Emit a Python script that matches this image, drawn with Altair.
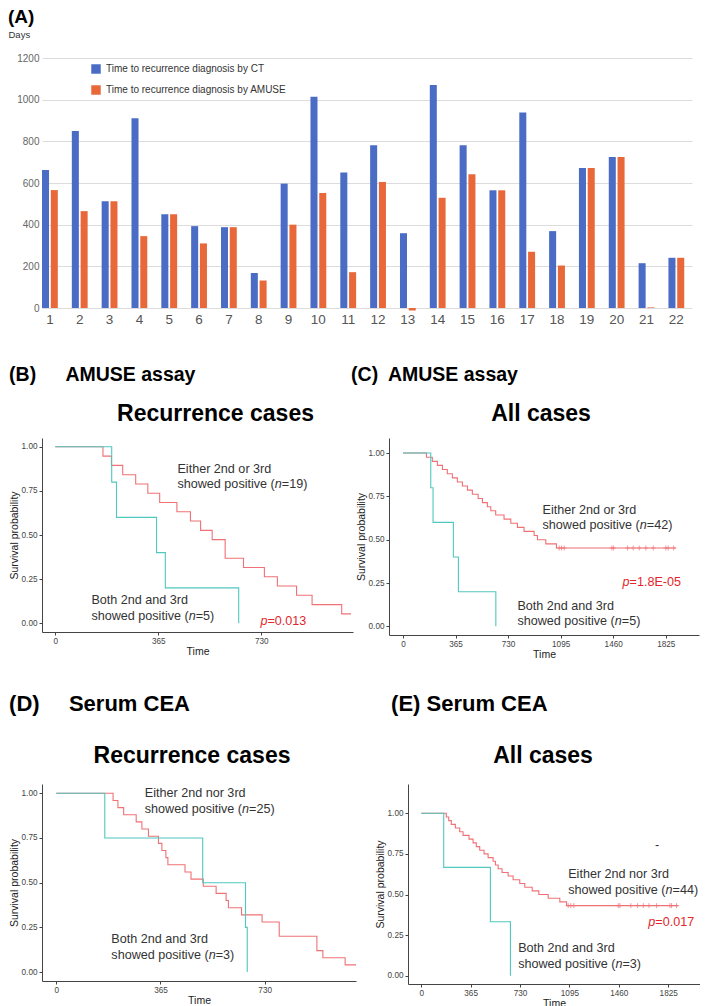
import altair as alt
import pandas as pd

FONT = "Liberation Sans"
BLUE = "#4A6CC5"
ORANGE = "#E8683A"
RED = "#EF7176"
TEAL = "#4FC8BE"
PRED = "#E3262C"
INK = "#333333"

# ---------------- (A) bar chart data ----------------
PATIENTS = [str(i) for i in range(1, 23)]
CT_DAYS = [662, 850, 513, 911, 450, 393, 388, 168, 597, 1014, 650,
           781, 359, 1070, 781, 565, 938, 369, 672, 725, 215, 241]
AMUSE_DAYS = [566, 465, 513, 345, 450, 310, 388, 132, 400, 552, 172,
              605, -12, 529, 642, 565, 270, 204, 672, 725, 3, 241]
SERIES = ["Time to recurrence diagnosis by CT",
          "Time to recurrence diagnosis by AMUSE"]
A_TICKS = [0, 200, 400, 600, 800, 1000, 1200]

# ---------------- Kaplan-Meier curves (time, survival) ----------------
B_RED_T = [0, 169, 199, 239, 285, 328, 370, 431, 479, 515, 556, 602, 667, 741, 787, 855, 910, 1015, 1048]
B_RED_S = [1.0, 0.947, 0.895, 0.842, 0.789, 0.737, 0.684, 0.632, 0.579, 0.526, 0.474, 0.368,
           0.316, 0.263, 0.211, 0.158, 0.105, 0.053, 0.053]
B_TEAL_T = [0, 200, 217, 359, 390, 650]
B_TEAL_S = [1.0, 0.8, 0.6, 0.4, 0.2, 0.0]

C_RED_T = [0, 163, 204, 239, 274, 308, 343, 378, 413, 448, 482, 522, 552, 586, 610, 644,
           702, 749, 795, 841, 911, 934, 992, 1066, 1896]
C_RED_S = [1.0, 0.976, 0.952, 0.929, 0.905, 0.881, 0.857, 0.833, 0.810, 0.786, 0.762, 0.738,
           0.714, 0.690, 0.667, 0.643, 0.619, 0.595, 0.571, 0.548, 0.524, 0.500, 0.476, 0.452, 0.452]
C_CENS_T = [1085, 1101, 1120, 1451, 1463, 1560, 1599, 1641, 1687, 1738, 1826, 1842, 1880]
C_CENS_S = [0.452] * 13
C_TEAL_T = [0, 193, 209, 350, 385, 645]
C_TEAL_S = [1.0, 0.8, 0.6, 0.4, 0.2, 0.0]

D_RED_T = [0, 199, 216, 236, 280, 300, 323, 358, 370, 384, 391, 451, 472, 515, 560, 595, 603,
           649, 721, 781, 913, 934, 1012, 1050]
D_RED_S = [1.0, 0.96, 0.92, 0.88, 0.84, 0.80, 0.76, 0.72, 0.68, 0.64, 0.60, 0.56, 0.52, 0.48,
           0.44, 0.40, 0.36, 0.32, 0.28, 0.20, 0.12, 0.08, 0.04, 0.04]
D_TEAL_T = [0, 170, 513, 663, 669]
D_TEAL_S = [1.0, 0.75, 0.5, 0.25, 0.0]

E_RED_T = [0, 185, 203, 222, 252, 284, 309, 353, 383, 407, 432, 464, 494, 531, 548, 568, 597,
           642, 679, 728, 765, 820, 869, 938, 1024, 1074, 1900]
E_RED_S = [1.0, 0.977, 0.955, 0.932, 0.909, 0.886, 0.864, 0.841, 0.818, 0.795, 0.773, 0.750,
           0.727, 0.705, 0.682, 0.659, 0.636, 0.614, 0.591, 0.568, 0.545, 0.523, 0.500, 0.477,
           0.455, 0.432, 0.432]
E_CENS_T = [1086, 1105, 1128, 1456, 1468, 1549, 1599, 1641, 1683, 1739, 1838, 1850, 1887]
E_CENS_S = [0.432] * 13
E_TEAL_T = [0, 166, 511, 659]
E_TEAL_S = [1.0, 0.667, 0.333, 0.0]

# ---------------- annotations (anchored in data units; "|" toggles italic) ----------------
B_NOTE_T = [433, 433, 128, 128]
B_NOTE_S = [0.874, 0.787, 0.130, 0.043]
B_NOTE = ["Either 2nd or 3rd", "showed positive (|n|=19)", "Both 2nd and 3rd", "showed positive (|n|=5)"]
B_P = (727, 0.015, "|p|=0.013")

C_NOTE_T = [969, 969, 795, 795]
C_NOTE_S = [0.672, 0.582, 0.120, 0.029]
C_NOTE = ["Either 2nd or 3rd", "showed positive (|n|=42)", "Both 2nd and 3rd", "showed positive (|n|=5)"]
C_P = (1525, 0.254, "|p|=1.8E-05")

D_NOTE_T = [310, 310, 193, 193]
D_NOTE_S = [1.0, 0.912, 0.184, 0.097]
D_NOTE = ["Either 2nd nor 3rd", "showed positive (|n|=25)", "Both 2nd and 3rd", "showed positive (|n|=3)"]
D_P = None

E_NOTE_T = [1086, 1086, 716, 716, 1727]
E_NOTE_S = [0.627, 0.529, 0.170, 0.072, 0.805]
E_NOTE = ["Either 2nd nor 3rd", "showed positive (|n|=44)", "Both 2nd and 3rd", "showed positive (|n|=3)", "-"]
E_P = (1678, 0.334, "|p|=0.017")

# Arial / Liberation Sans advance widths (1/1000 em) for inline italic offsets
WIDTH = {" ": 278, "(": 333, ")": 333, "=": 584, ".": 278, "-": 333, "E": 667}
WIDTH.update({c: 556 for c in "0123456789abdeghnopqu"})
WIDTH.update({c: 500 for c in "cksvxyz"})
WIDTH.update({"f": 278, "t": 278, "i": 222, "j": 222, "l": 222, "m": 833, "r": 333, "w": 722})

NOTE_SIZE = 12.6


def text_width(s, size):
    return sum(WIDTH.get(ch, 556) for ch in s) * size / 1000.0


def rich_text_layers(t, s, text, X, Y, color):
    layers = []
    dx = 0.0
    for k, seg in enumerate(text.split("|")):
        if seg:
            df = pd.DataFrame({"t": [t], "s": [s], "label": [seg]})
            layers.append(
                alt.Chart(df).mark_text(
                    align="left", baseline="middle", font=FONT, fontSize=NOTE_SIZE,
                    fontStyle="italic" if k % 2 else "normal", color=color, dx=dx
                ).encode(x=X, y=Y, text="label:N")
            )
        dx += text_width(seg, NOTE_SIZE)
    return layers


def km_panel(red_t, red_s, teal_t, teal_s, cens_t, cens_s, xdom, xticks, ytop, w, h,
             title, title_dx, title_offset, note_t, note_s, notes, pval):
    X = alt.X("t:Q", scale=alt.Scale(domain=xdom, nice=False, zero=False),
              axis=alt.Axis(values=xticks, format="d", title="Time", grid=False,
                            domainColor="#444", tickColor="#444", tickSize=3,
                            labelFontSize=8.2, labelColor="#444", labelPadding=2,
                            titleFontSize=10.5, titleFontWeight="normal", titleColor="#222",
                            titlePadding=2))
    Y = alt.Y("s:Q", scale=alt.Scale(domain=[-0.05, ytop], nice=False, zero=False),
              axis=alt.Axis(values=[0, 0.25, 0.5, 0.75, 1.0], format=".2f",
                            title="Survival probability", grid=False,
                            domainColor="#444", tickColor="#444", tickSize=3,
                            labelFontSize=8.2, labelColor="#444", labelPadding=2,
                            titleFontSize=10.5, titleFontWeight="normal", titleColor="#222",
                            titlePadding=2))
    red = alt.Chart(pd.DataFrame({"t": red_t, "s": red_s})).mark_line(
        interpolate="step-after", color=RED, strokeWidth=1.1).encode(x=X, y=Y)
    teal = alt.Chart(pd.DataFrame({"t": teal_t, "s": teal_s})).mark_line(
        interpolate="step-after", color=TEAL, strokeWidth=1.1).encode(x=X, y=Y)
    layers = [red, teal]
    if cens_t:
        layers.append(
            alt.Chart(pd.DataFrame({"t": cens_t, "s": cens_s})).mark_point(
                shape="M-1,0L1,0M0,-1L0,1", size=25, filled=False, color=RED, strokeWidth=1
            ).encode(x=X, y=Y)
        )
    for t, s, txt in zip(note_t, note_s, notes):
        layers += rich_text_layers(t, s, txt, X, Y, INK)
    if pval:
        layers += rich_text_layers(pval[0], pval[1], pval[2], X, Y, PRED)
    return alt.layer(*layers).properties(
        width=w, height=h,
        title=alt.TitleParams(title, anchor="middle", fontSize=23, fontWeight="bold",
                              font=FONT, color="#000", dx=title_dx, offset=title_offset),
    )


def section(chart, text, size, dx, offset):
    return alt.vconcat(chart, title=alt.TitleParams(
        text, anchor="start", frame="bounds", fontSize=size, fontWeight="bold",
        font=FONT, color="#000", dx=dx, offset=offset))


# ---------------- (A) ----------------
dfA = pd.DataFrame({
    "patient": PATIENTS * 2,
    "days": CT_DAYS + AMUSE_DAYS,
    "series": [SERIES[0]] * len(PATIENTS) + [SERIES[1]] * len(PATIENTS),
})
chartA = alt.Chart(dfA).mark_bar().encode(
    x=alt.X("patient:N", sort=PATIENTS,
            scale=alt.Scale(paddingInner=0.47, paddingOuter=0.13, align=0),
            axis=alt.Axis(title=None, labelAngle=0, labelFontSize=13.5, labelColor="#555",
                          ticks=False, domain=False, labelPadding=4)),
    xOffset=alt.XOffset("series:N", sort=SERIES, scale=alt.Scale(paddingInner=0.2)),
    y=alt.Y("days:Q", scale=alt.Scale(domain=[0, 1200], nice=False),
            axis=alt.Axis(values=A_TICKS, format="d", title="Days", titleAngle=0,
                          titleAlign="left", titleBaseline="middle", titleX=-34, titleY=-24,
                          titleFontSize=9.5, titleFontWeight="normal", titleColor=INK,
                          domain=False, ticks=False, gridColor="#DCDCDC", labelColor="#666",
                          labelFontSize=10, labelPadding=3)),
    color=alt.Color("series:N", sort=SERIES,
                    scale=alt.Scale(domain=SERIES, range=[BLUE, ORANGE]),
                    legend=alt.Legend(orient="none", legendX=49, legendY=6, title=None,
                                      direction="vertical", symbolType="square",
                                      symbolSize=90, symbolStrokeWidth=0, labelFontSize=10,
                                      labelColor=INK, labelOffset=5, rowPadding=11,
                                      padding=0, labelLimit=400)),
).properties(
    width=650, height=250,
    title=alt.TitleParams("(A)", anchor="start", frame="bounds", fontSize=19,
                          fontWeight="bold", color="#000", offset=2),
)

# ---------------- KM panels ----------------
chartB = km_panel(B_RED_T, B_RED_S, B_TEAL_T, B_TEAL_S, [], [], [-47, 1055], [0, 365, 730],
                  1.05, 311, 194, "Recurrence cases", 18, 12, B_NOTE_T, B_NOTE_S, B_NOTE, B_P)
chartC = km_panel(C_RED_T, C_RED_S, C_TEAL_T, C_TEAL_S, C_CENS_T, C_CENS_S, [-97, 2056],
                  [0, 365, 730, 1095, 1460, 1825], 1.087, 310, 197, "All cases", -3, 12,
                  C_NOTE_T, C_NOTE_S, C_NOTE, C_P)
chartD = km_panel(D_RED_T, D_RED_S, D_TEAL_T, D_TEAL_S, [], [], [-50, 1050], [0, 365, 730],
                  1.052, 314, 197, "Recurrence cases", -7, 16, D_NOTE_T, D_NOTE_S, D_NOTE, D_P)
chartE = km_panel(E_RED_T, E_RED_S, E_TEAL_T, E_TEAL_S, E_CENS_T, E_CENS_S, [-98, 2060],
                  [0, 365, 730, 1095, 1460, 1825], 1.18, 292, 200, "All cases", -11, 16,
                  E_NOTE_T, E_NOTE_S, E_NOTE, E_P)

cellB = section(chartB, "(B)\u2003\u2002AMUSE assay", 19.5, 0, 18)
cellC = section(chartC, "(C)\u2002AMUSE assay", 19.5, -5, 18)
cellD = section(chartD, "(D)\u2003\u2004Serum CEA", 22, 0, 29)
cellE = section(chartE, "(E) Serum CEA", 22, 16, 29)

rowBC = alt.hconcat(cellB, cellC, spacing=-3)
rowDE = alt.hconcat(cellD, cellE, spacing=16)
lower = alt.vconcat(rowBC, rowDE, spacing=33)

chart = alt.vconcat(chartA, lower, spacing=38).properties(
    padding=0
).configure(font=FONT).configure_view(stroke=None)

chart.save("out.html", embed_options={"renderer": "svg", "actions": False})
